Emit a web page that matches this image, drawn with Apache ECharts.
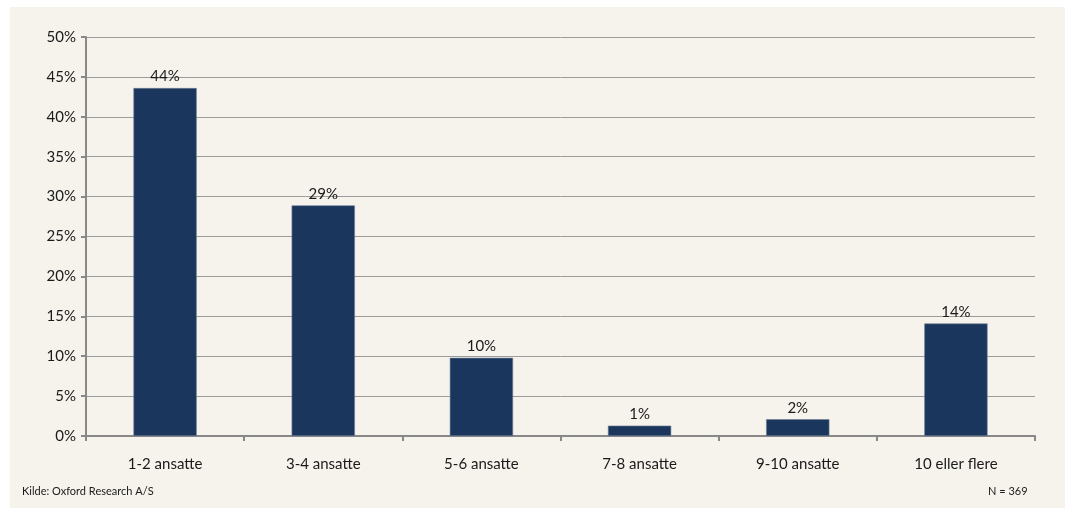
<!DOCTYPE html>
<html>
<head>
<meta charset="utf-8">
<script src="https://cdn.jsdelivr.net/npm/echarts@6/dist/echarts.min.js"></script>
<style>
  html, body { margin: 0; padding: 0; background: #ffffff; }
  #chart { position: absolute; left: 10px; top: 7px; width: 1055px; height: 501px; background: #f6f2ec; }
</style>
</head>
<body>
<div id="chart"></div>
<script>
// Virksomheder fordelt på antal ansatte
const categories = ['1-2 ansatte', '3-4 ansatte', '5-6 ansatte', '7-8 ansatte', '9-10 ansatte', '10 eller flere'];
const shares = [43.6, 28.9, 9.8, 1.3, 2.1, 14.1];
const yTicks = [0, 5, 10, 15, 20, 25, 30, 35, 40, 45, 50];
const sourceText = 'Kilde: Oxford Research A/S';
const sampleText = 'N = 369';

const FONT = 'Lato, "Open Sans", sans-serif';
const chart = echarts.init(document.getElementById('chart'), null, { renderer: 'canvas' });

chart.setOption({
  backgroundColor: '#f6f2ec',
  animation: false,
  grid: { left: 76, right: 30, top: 30, bottom: 72, containLabel: false },
  xAxis: {
    type: 'category',
    data: categories,
    axisLine: { lineStyle: { color: '#888888', width: 2 } },
    axisTick: { show: true, length: 5, lineStyle: { color: '#888888', width: 2 } },
    axisLabel: { color: '#1a1a1a', fontSize: 15, fontFamily: FONT, margin: 21 }
  },
  yAxis: {
    type: 'value',
    min: yTicks[0],
    max: yTicks[yTicks.length - 1],
    interval: 5,
    axisLine: { show: true, lineStyle: { color: '#888888', width: 2 } },
    axisTick: { show: true, length: 5, lineStyle: { color: '#888888', width: 2 } },
    axisLabel: { color: '#1a1a1a', fontSize: 15, fontFamily: FONT, margin: 10, formatter: v => v + '%' },
    splitLine: { show: true, lineStyle: { color: '#9c9c9c', width: 1 } }
  },
  series: [{
    type: 'bar',
    data: shares,
    barWidth: '40%',
    itemStyle: { color: '#1b365d', borderColor: '#6f7f95', borderWidth: 0.6 },
    label: {
      show: true,
      position: 'top',
      distance: 4,
      color: '#1a1a1a',
      fontSize: 15,
      fontFamily: FONT,
      formatter: p => Math.round(p.value) + '%'
    }
  }],
  graphic: [
    { type: 'text', left: 12, top: 479, style: { text: sourceText, fill: '#1a1a1a', font: '11px ' + FONT } },
    { type: 'text', left: 978, top: 479, style: { text: sampleText, fill: '#1a1a1a', font: '11px ' + FONT } }
  ]
});
</script>
</body>
</html>
